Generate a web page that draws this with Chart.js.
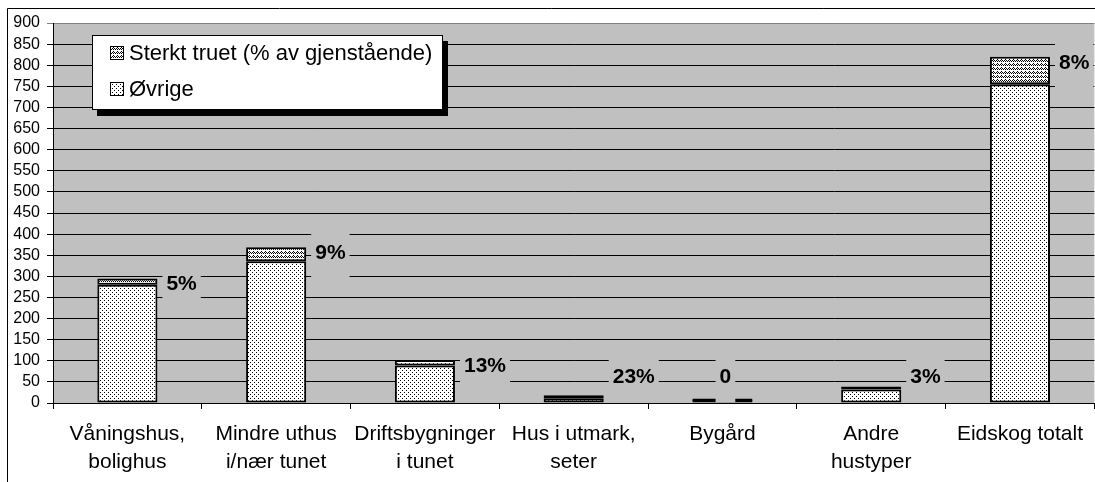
<!DOCTYPE html>
<html>
<head>
<meta charset="utf-8">
<script src="https://cdn.jsdelivr.net/npm/chart.js@4/dist/chart.umd.min.js"></script>
<style>
  html, body { margin: 0; padding: 0; background: #fff; }
  #wrap { width: 1095px; height: 482px; }
</style>
</head>
<body>
<div id="wrap"><canvas id="myBarChart"></canvas></div>
<script>
// kategorier og verdier
var categories = [
  ['Våningshus,', 'bolighus'],
  ['Mindre uthus', 'i/nær tunet'],
  ['Driftsbygninger', 'i tunet'],
  ['Hus i utmark,', 'seter'],
  ['Bygård'],
  ['Andre', 'hustyper'],
  ['Eidskog totalt']
];
var ovrige = [280, 336, 89, 11, 4, 32, 755];
var sterktTruet = [15, 33, 13, 3, 0, 1, 65];
var pctLabels = ['5%', '9%', '13%', '23%', '0', '3%', '8%'];

var FONT = "Arial, 'Liberation Sans', sans-serif";

// mønster for fyll
function makePattern(rows) {
  var c = document.createElement('canvas');
  c.width = rows[0].length;
  c.height = rows.length;
  var g = c.getContext('2d');
  g.fillStyle = '#fff';
  g.fillRect(0, 0, c.width, c.height);
  g.fillStyle = '#000';
  for (var y = 0; y < rows.length; y++) {
    for (var x = 0; x < rows[y].length; x++) {
      if (rows[y][x] === 'X') g.fillRect(x, y, 1, 1);
    }
  }
  return g.createPattern(c, 'repeat');
}

var ctx = document.getElementById('myBarChart').getContext('2d');
var dotPattern = makePattern([
  'X...',
  '....',
  '..X.',
  '....'
]);
var wavePattern = makePattern([
  'X.X.',
  '.X.X',
  '....',
  '.X..'
]);

// bakgrunn, ramme og forklaring
var framePlugin = {
  id: 'frame',
  beforeDraw: function (chart) {
    var g = chart.ctx, a = chart.chartArea;
    g.save();
    g.fillStyle = '#fff';
    g.fillRect(0, 0, chart.width, chart.height);
    g.fillStyle = '#c0c0c0';
    g.fillRect(a.left, a.top, a.right - a.left, a.bottom - a.top);
    g.strokeStyle = '#000';
    g.lineWidth = 1;
    g.beginPath();
    g.moveTo(7.5, chart.height);
    g.lineTo(7.5, 8.5);
    g.lineTo(chart.width, 8.5);
    g.stroke();
    g.restore();
  },
  afterDraw: function (chart) {
    var g = chart.ctx;
    var bx = 92, by = 35, bw = 351, bh = 75;
    g.save();
    g.fillStyle = '#000';
    g.fillRect(bx + 5, by + 6, bw, bh);
    g.fillStyle = '#fff';
    g.fillRect(bx, by, bw, bh);
    g.strokeStyle = '#000';
    g.lineWidth = 1;
    g.strokeRect(bx + 0.5, by + 0.5, bw - 1, bh - 1);
    var items = [chart.data.datasets[1], chart.data.datasets[0]];
    g.font = '22px ' + FONT;
    g.textBaseline = 'middle';
    for (var i = 0; i < items.length; i++) {
      var cy = by + 18 + i * 36;
      g.fillStyle = items[i].backgroundColor;
      g.fillRect(110, cy - 7, 14, 14);
      g.strokeStyle = '#000';
      g.strokeRect(110.5, cy - 6.5, 13, 13);
      g.fillStyle = '#000';
      g.fillText(items[i].label, 129, cy + 1);
    }
    g.restore();
  }
};

// prosentetiketter ved søylene
var labelPlugin = {
  id: 'pctLabels',
  afterDatasetsDraw: function (chart) {
    var g = chart.ctx;
    var yScale = chart.scales.y;
    var meta = chart.getDatasetMeta(1);
    g.save();
    g.font = 'bold 21px ' + FONT;
    g.textBaseline = 'middle';
    for (var i = 0; i < pctLabels.length; i++) {
      var bar = meta.data[i];
      var total = ovrige[i] + sterktTruet[i];
      var cy = yScale.getPixelForValue(Math.max(total, 75)) + 6;
      var tw = g.measureText(pctLabels[i]).width;
      var tx = pctLabels[i] === '0' ? bar.x - tw / 2 + 3 : bar.x + bar.width / 2 + 9;
      g.fillStyle = '#c0c0c0';
      g.fillRect(tx - 4, cy - 21, tw + 8, 46);
      g.fillStyle = '#000';
      g.fillText(pctLabels[i], tx, cy);
    }
    g.restore();
  }
};

var myBarChart = new Chart(ctx, {
  type: 'bar',
  data: {
    labels: categories,
    datasets: [{
      label: 'Øvrige',
      data: ovrige,
      backgroundColor: dotPattern,
      borderColor: '#000',
      borderWidth: 2,
      borderSkipped: false,
      minBarLength: 3
    }, {
      label: 'Sterkt truet (% av gjenstående)',
      data: sterktTruet,
      backgroundColor: wavePattern,
      borderColor: '#000',
      borderWidth: 2,
      borderSkipped: false,
      minBarLength: 3
    }]
  },
  options: {
    responsive: true,
    maintainAspectRatio: false,
    animation: false,
    datasets: {
      bar: { categoryPercentage: 1, barPercentage: 0.404 }
    },
    layout: { padding: { top: 23, right: 0, left: 0, bottom: 0 } },
    plugins: {
      legend: { display: false },
      tooltip: { enabled: false }
    },
    scales: {
      x: {
        stacked: true,
        afterFit: function (s) { s.height = 79; },
        grid: {
          offset: true,
          drawOnChartArea: false,
          color: '#000',
          tickLength: 6
        },
        border: { color: '#000', width: 1 },
        ticks: {
          color: '#000',
          padding: 12,
          maxRotation: 0,
          autoSkip: false,
          font: { family: FONT, size: 21, lineHeight: 1.3 }
        }
      },
      y: {
        stacked: true,
        min: 0,
        max: 900,
        afterFit: function (s) { s.width = 53; },
        grid: {
          color: function (c) { return c.tick && c.tick.value === 900 ? '#808080' : '#000'; },
          tickLength: 6
        },
        border: { color: '#000', width: 1 },
        ticks: {
          stepSize: 50,
          autoSkip: false,
          color: '#000',
          padding: 7,
          font: { family: FONT, size: 16 }
        }
      }
    }
  },
  plugins: [framePlugin, labelPlugin]
});
</script>
</body>
</html>
